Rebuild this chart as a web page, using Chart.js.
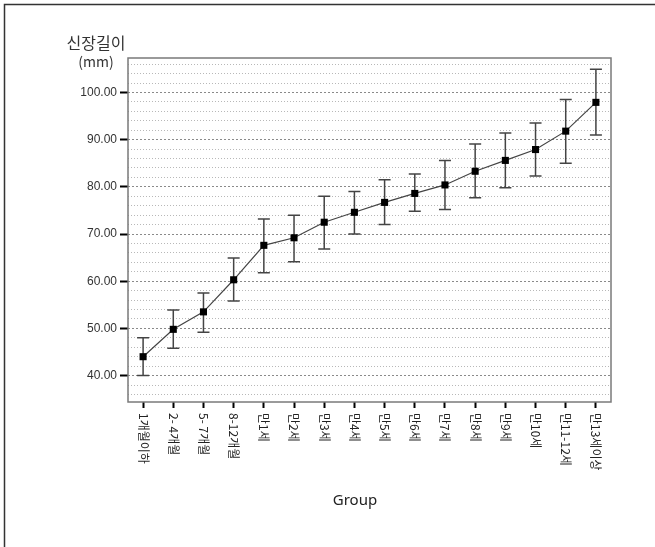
<!DOCTYPE html>
<html>
<head>
<meta charset="utf-8">
<script src="https://cdn.jsdelivr.net/npm/chart.js@4/dist/chart.umd.min.js"></script>
<style>
  html, body { margin: 0; padding: 0; background: #fff; }
  #wrap { width: 655px; height: 547px; }
</style>
</head>
<body>
<div id="wrap"><canvas id="c" width="655" height="547"></canvas></div>
<script>
// Age groups on the x axis
const categories = ['1개월이하', '2- 4개월', '5- 7개월', '8-12개월', '만1세', '만2세', '만3세', '만4세',
  '만5세', '만6세', '만7세', '만8세', '만9세', '만10세', '만11-12세', '만13세이상'];
// Group means (mm)
const means = [44.0, 49.8, 53.5, 60.3, 67.6, 69.2, 72.5, 74.6, 76.7, 78.6, 80.4, 83.3, 85.6, 87.9, 91.8, 97.9];
// Error bar ends (mm)
const upper = [48.0, 53.9, 57.5, 64.9, 73.2, 74.0, 78.0, 79.0, 81.5, 82.7, 85.6, 89.1, 91.4, 93.5, 98.5, 104.9];
const lower = [40.0, 45.8, 49.2, 55.8, 61.8, 64.1, 66.8, 70.0, 72.0, 74.8, 75.2, 77.7, 79.8, 82.3, 85.0, 91.0];
// Labelled y ticks and the minor grid spacing
const yLabels = [40, 50, 60, 70, 80, 90, 100];
const yMin = 34.4, yMax = 107.3, minorStep = 2;

const korFont = '"Noto Sans CJK KR", "Noto Sans", sans-serif';
const isMajor = v => yLabels.includes(v);

const errorBars = {
  id: 'errorBars',
  beforeDatasetsDraw(chart) {
    const { ctx, scales: { x, y } } = chart;
    ctx.save();
    ctx.strokeStyle = '#444';
    ctx.lineWidth = 1.5;
    const cap = 6;
    categories.forEach((c, i) => {
      const px = x.getPixelForValue(i);
      const top = y.getPixelForValue(upper[i]);
      const bot = y.getPixelForValue(lower[i]);
      ctx.beginPath();
      ctx.moveTo(px, top); ctx.lineTo(px, bot);
      ctx.moveTo(px - cap, top); ctx.lineTo(px + cap, top);
      ctx.moveTo(px - cap, bot); ctx.lineTo(px + cap, bot);
      ctx.stroke();
    });
    ctx.restore();
  }
};

const frameAndText = {
  id: 'frameAndText',
  beforeDatasetsDraw(chart) {
    const { ctx, chartArea: a } = chart;
    ctx.save();
    ctx.strokeStyle = '#7a7a7a';
    ctx.lineWidth = 1.5;
    ctx.strokeRect(a.left, a.top, a.right - a.left, a.bottom - a.top);
    ctx.restore();
  },
  afterDraw(chart) {
    const { ctx, chartArea: a, scales: { x } } = chart;
    ctx.save();
    // outer border
    ctx.strokeStyle = '#333';
    ctx.lineWidth = 1.5;
    ctx.beginPath();
    ctx.moveTo(4.5, chart.height);
    ctx.lineTo(4.5, 4.5);
    ctx.lineTo(chart.width, 4.5);
    ctx.stroke();

    // category labels, rotated to read downward
    ctx.fillStyle = '#222';
    ctx.font = '12px ' + korFont;
    ctx.textAlign = 'left';
    ctx.textBaseline = 'middle';
    categories.forEach((c, i) => {
      const px = x.getPixelForValue(i);
      ctx.save();
      ctx.translate(px, a.bottom + 11);
      ctx.rotate(Math.PI / 2);
      ctx.fillText(c, 0, 0);
      ctx.restore();
    });

    // axis titles
    ctx.textAlign = 'center';
    ctx.fillStyle = '#333';
    ctx.font = '16px ' + korFont;
    ctx.fillText('신장길이', a.left - 32, 43);
    ctx.font = '14px ' + korFont;
    ctx.fillText('(mm)', a.left - 32, 62);
    ctx.fillStyle = '#222';
    ctx.font = '15px "Noto Sans", sans-serif';
    ctx.fillText('Group', a.left + 227, a.bottom + 99);
    ctx.restore();
  }
};

new Chart(document.getElementById('c'), {
  type: 'line',
  data: {
    labels: categories,
    datasets: [{
      data: means,
      borderColor: '#444',
      borderWidth: 1.2,
      tension: 0,
      pointStyle: 'rect',
      pointRadius: 5,
      pointBackgroundColor: '#000',
      pointBorderColor: '#000',
      pointBorderWidth: 0
    }]
  },
  options: {
    responsive: false,
    animation: false,
    layout: { padding: { left: 0, right: 44, top: 58, bottom: 0 } },
    plugins: { legend: { display: false }, tooltip: { enabled: false } },
    scales: {
      x: {
        offset: true,
        afterFit: s => { s.height = 145; s.paddingLeft = 0; s.paddingRight = 0; },
        ticks: { display: false },
        grid: { offset: false, drawOnChartArea: false, drawTicks: true, tickLength: 6, tickColor: '#000', tickWidth: 2 },
        border: { display: false }
      },
      y: {
        min: yMin,
        max: yMax,
        afterBuildTicks: s => {
          const t = [];
          for (let v = Math.ceil(yMin / minorStep) * minorStep; v <= yMax; v += minorStep) t.push({ value: v });
          s.ticks = t;
        },
        afterFit: s => { s.width = 128; s.paddingTop = 0; s.paddingBottom = 0; },
        ticks: {
          autoSkip: false,
          padding: 3,
          color: '#333',
          font: { family: '"Liberation Sans", Arial, sans-serif', size: 12 },
          callback: v => isMajor(v) ? v.toFixed(2) : ''
        },
        grid: {
          color: c => isMajor(c.tick.value) ? '#8a8a8a' : '#b8b8b8',
          lineWidth: 1,
          tickLength: 8,
          tickWidth: 2,
          tickColor: c => isMajor(c.tick.value) ? '#000' : 'rgba(0,0,0,0)'
        },
        border: { display: false, dash: c => isMajor(c.tick.value) ? [2, 2] : [1, 2] }
      }
    }
  },
  plugins: [errorBars, frameAndText]
});
</script>
</body>
</html>
